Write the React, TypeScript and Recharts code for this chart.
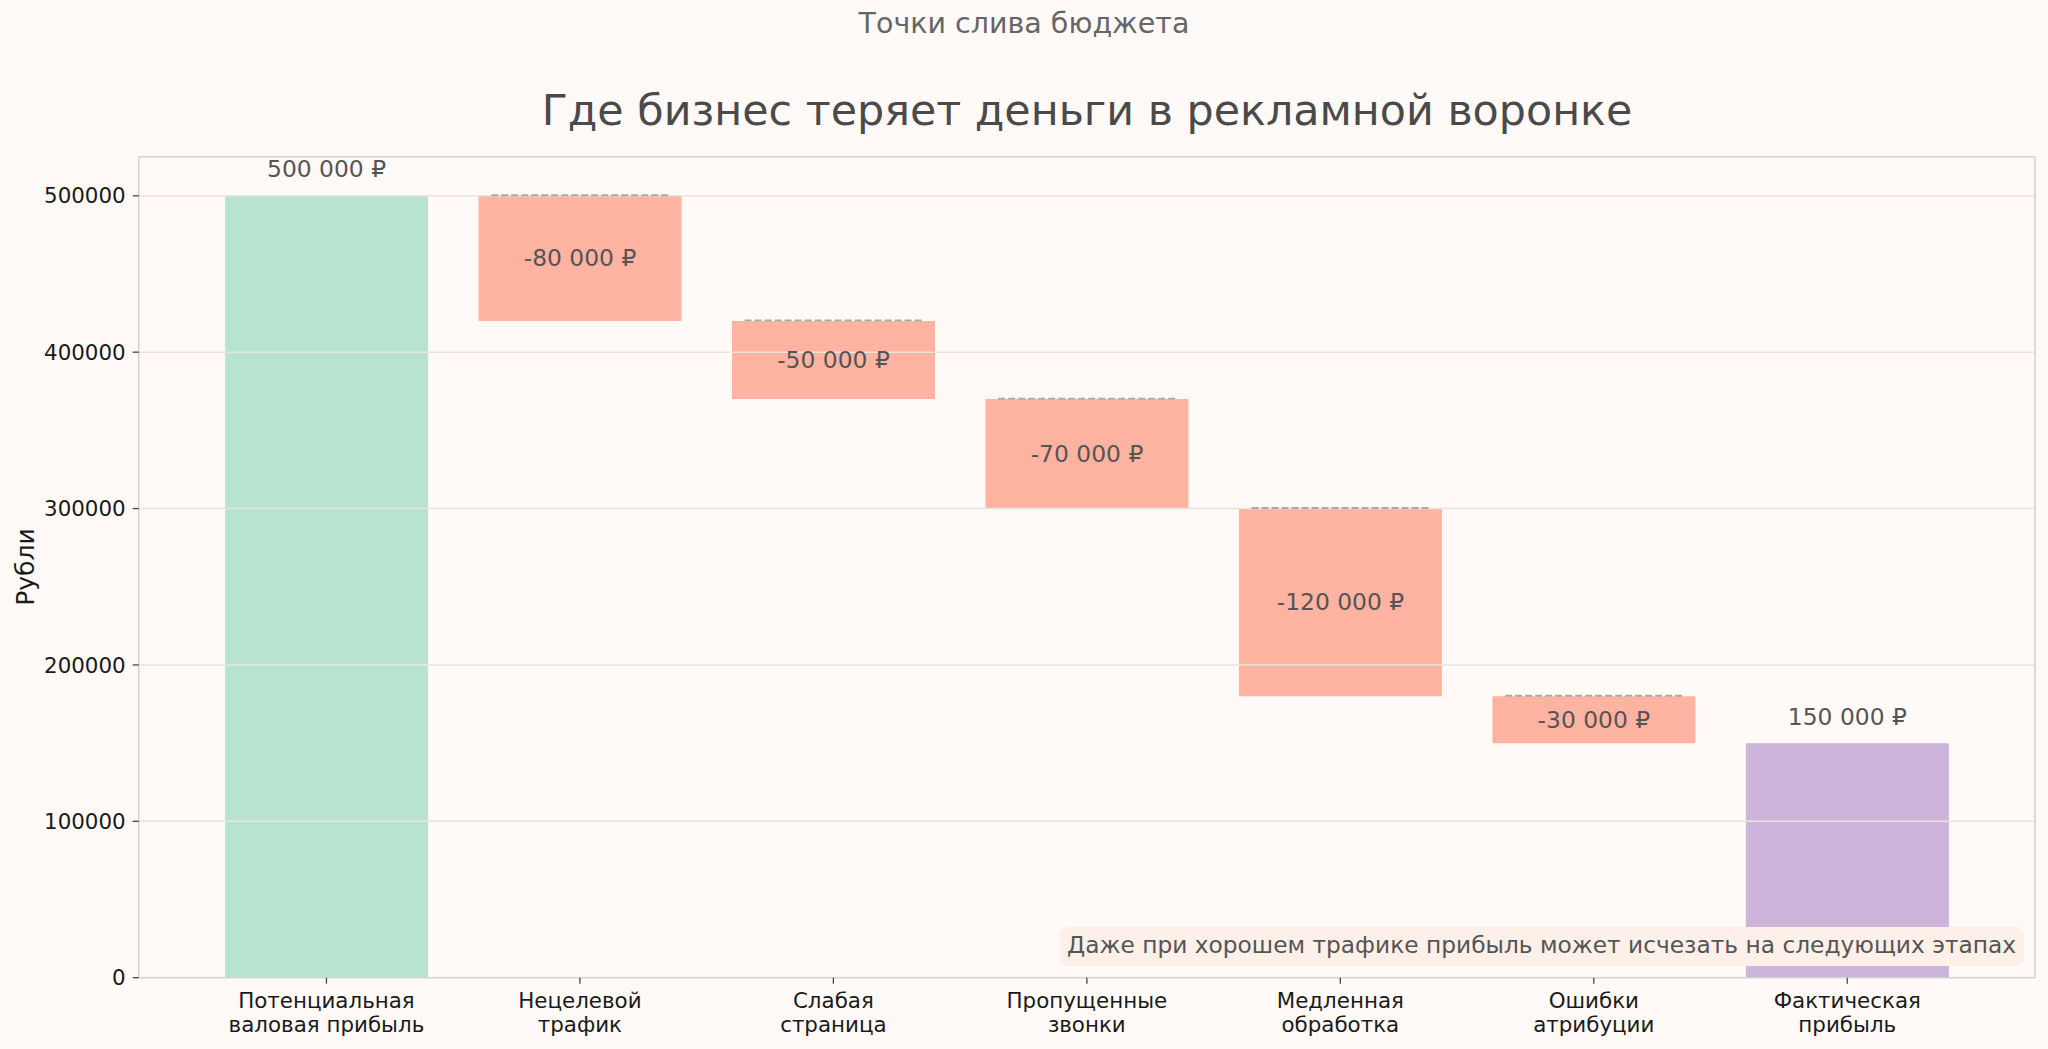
import React from 'react';
import { BarChart, Bar, XAxis, YAxis, Cell, LabelList, ReferenceLine } from 'recharts';

const W = 2048;
const H = 1049;
const FONT = '"DejaVu Sans", "Noto Sans", sans-serif';

const categories = [
  'Потенциальная\nваловая прибыль',
  'Нецелевой\nтрафик',
  'Слабая\nстраница',
  'Пропущенные\nзвонки',
  'Медленная\nобработка',
  'Ошибки\nатрибуции',
  'Фактическая\nприбыль',
];
const amounts = [500000, -80000, -50000, -70000, -120000, -30000, 150000];
const barColors = ['#b8e3d1', '#ffb3a0', '#ffb3a0', '#ffb3a0', '#ffb3a0', '#ffb3a0', '#cdb4db'];
const yTicks = [0, 100000, 200000, 300000, 400000, 500000];
const yMax = 525000;

const suptitle = 'Точки слива бюджета';
const title = 'Где бизнес теряет деньги в рекламной воронке';
const yLabel = 'Рубли';
const note = 'Даже при хорошем трафике прибыль может исчезать на следующих этапах';

const FRAME = '#d8d2cc';

function fmt(v: number): string {
  const s = Math.abs(v).toString().replace(/\B(?=(\d{3})+(?!\d))/g, ' ');
  return (v < 0 ? '-' : '') + s + ' ₽';
}

const data = (() => {
  let run = 0;
  return categories.map((name, i) => {
    const v = amounts[i];
    const isEnd = i === 0 || i === amounts.length - 1;
    let base: number;
    let h: number;
    if (isEnd) {
      base = 0;
      h = v;
      run = v;
    } else {
      base = run + v;
      h = -v;
      run = run + v;
    }
    return { name, base, h, label: fmt(v), end: isEnd, color: barColors[i] };
  });
})();

const renderLabel = (props: any) => {
  const vb = props.viewBox || {};
  const x = props.x ?? vb.x;
  const y = props.y ?? vb.y;
  const width = props.width ?? vb.width;
  const height = props.height ?? vb.height;
  const d = data[props.index];
  if (!d || x == null) return null;
  const cx = x + width / 2;
  if (d.end) {
    return (
      <text x={cx} y={y - 26.5} textAnchor="middle" dominantBaseline="central" fontSize={23.4} fill="#555555" fontFamily={FONT}>
        {d.label}
      </text>
    );
  }
  return (
    <g>
      <line
        x1={x + width * 0.0625}
        x2={x + width * 0.9375}
        y1={y - 0.5}
        y2={y - 0.5}
        stroke="#aaaaaa"
        strokeWidth={1.9}
        strokeDasharray="7 3"
      />
      <text x={cx} y={y + height / 2} textAnchor="middle" dominantBaseline="central" fontSize={23.4} fill="#555555" fontFamily={FONT}>
        {d.label}
      </text>
    </g>
  );
};

const XTick = (props: any) => {
  const { x, y, payload } = props;
  const lines = String(payload.value).split('\n');
  return (
    <text x={x} y={y} textAnchor="middle" fontSize={21.4} fill="#1a1a1a" fontFamily={FONT}>
      {lines.map((l, i) => (
        <tspan key={i} x={x} dy={i === 0 ? 22.5 : 23.7}>
          {l}
        </tspan>
      ))}
    </text>
  );
};

export default function App() {
  return (
    <div style={{ position: 'absolute', left: 0, top: 0, width: W, height: H, background: '#fffaf7', overflow: 'hidden' }}>
      <BarChart
        width={W}
        height={H}
        data={data}
        margin={{ top: 155.7, right: 12, bottom: 11.3, left: 18.7 }}
        barCategoryGap="10%"
      >
        <XAxis
          dataKey="name"
          type="category"
          height={60}
          padding={{ left: 61, right: 61 }}
          axisLine={{ stroke: FRAME, strokeWidth: 1.6 }}
          tickLine={{ stroke: '#444444', strokeWidth: 1.3 }}
          tickSize={6}
          tick={<XTick />}
          interval={0}
        />
        <XAxis
          xAxisId="top"
          orientation="top"
          dataKey="name"
          type="category"
          height={1}
          axisLine={{ stroke: FRAME, strokeWidth: 1.6 }}
          tickLine={false}
          tick={false}
        />
        <YAxis
          type="number"
          width={120}
          domain={[0, yMax]}
          ticks={yTicks}
          allowDataOverflow
          axisLine={{ stroke: FRAME, strokeWidth: 1.6 }}
          tickLine={{ stroke: '#444444', strokeWidth: 1.3 }}
          tickSize={6}
          tickMargin={7}
          tick={{ fontSize: 21.4, fill: '#1a1a1a', fontFamily: FONT }}
        />
        <YAxis
          yAxisId="right"
          orientation="right"
          type="number"
          width={1}
          domain={[0, yMax]}
          allowDataOverflow
          axisLine={{ stroke: FRAME, strokeWidth: 1.6 }}
          tickLine={false}
          tick={false}
        />
        <Bar dataKey="base" stackId="a" fill="transparent" isAnimationActive={false} />
        <Bar dataKey="h" stackId="a" isAnimationActive={false}>
          {data.map((d, i) => (
            <Cell key={i} fill={d.color} />
          ))}
          <LabelList dataKey="h" content={renderLabel} />
        </Bar>
        {yTicks.slice(1).map((t) => (
          <ReferenceLine key={t} y={t} xAxisId="top" stroke="#ebe4de" strokeWidth={1.5} />
        ))}
      </BarChart>
      <svg
        width={W}
        height={H}
        style={{ position: 'absolute', left: 0, top: 0, pointerEvents: 'none' }}
      >
        <text x={1024} y={33} textAnchor="middle" fontSize={28.5} fill="#666666" fontFamily={FONT}>
          {suptitle}
        </text>
        <text x={1087} y={125} textAnchor="middle" fontSize={42.8} fill="#4a4a4a" fontFamily={FONT}>
          {title}
        </text>
        <text
          x={34}
          y={567}
          transform="rotate(-90, 34, 567)"
          textAnchor="middle"
          fontSize={25}
          fill="#1a1a1a"
          fontFamily={FONT}
        >
          {yLabel}
        </text>
        <rect x={1059.5} y={927} width={964.5} height={39} rx={8} ry={8} fill="#fdf0e8" />
        <text x={1067} y={953} fontSize={23.3} fill="#555555" fontFamily={FONT}>
          {note}
        </text>
      </svg>
    </div>
  );
}
